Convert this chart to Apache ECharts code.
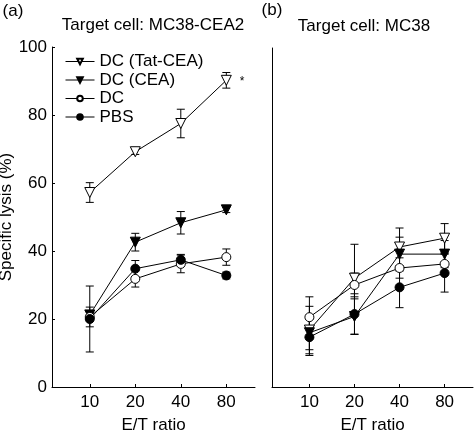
<!DOCTYPE html>
<html>
<head>
<meta charset="utf-8">
<script src="https://cdn.jsdelivr.net/npm/echarts@6/dist/echarts.min.js"></script>
<style>
html,body{margin:0;padding:0;background:#fff;}
#chart{width:475px;height:434px;}
</style>
</head>
<body>
<div id="chart"></div>
<script>
// ---- data ----
var ratioLabels = ['10', '20', '40', '80'];
var seriesNames = ['DC (Tat-CEA)', 'DC (CEA)', 'DC', 'PBS'];

// Panel (a): target MC38-CEA2
var tatCEA_a = [57.2, 69.2, 77.5, 90.2];
var tatCEA_a_err = [2.9, 0.8, 4.2, 2.3];
var cea_a = [21.2, 42.6, 48.3, 52.1];
var cea_a_err = [1.2, 2.6, 3.3, 0.8];
var dc_a = [20.6, 31.8, 36.2, 38.2];
var dc_a_err = [2.9, 2.4, 2.6, 2.4];
var pbs_a = [20.0, 34.8, 37.4, 32.8];
var pbs_a_err = [9.7, 2.4, 1.6, 1.0];

// Panel (b): target MC38
var tatCEA_b = [16.8, 32.1, 41.3, 43.9];
var tatCEA_b_err = [7.0, 10.0, 5.6, 4.3];
var cea_b = [16.0, 20.8, 39.2, 39.2];
var cea_b_err = [5.0, 5.2, 5.0, 4.0];
var dc_b = [20.6, 30.1, 35.1, 36.3];
var dc_b_err = [6.0, 3.5, 3.0, 3.0];
var pbs_b = [14.7, 21.5, 29.4, 33.6];
var pbs_b_err = [5.4, 6.0, 6.0, 5.6];

var yTicks = [0, 20, 40, 60, 80, 100];

// ---- build ----
var FONT = '"Liberation Sans", Arial, Helvetica, sans-serif';
var FS = 17;
var styles = [
  {symbol: 'triangle', rotate: 180, fill: '#fff', size: 10},
  {symbol: 'triangle', rotate: 180, fill: '#000', size: 10},
  {symbol: 'circle', rotate: 0, fill: '#fff', size: 9},
  {symbol: 'circle', rotate: 0, fill: '#000', size: 9}
];

function pts(vals) { return vals.map(function (v, i) { return [i + 1, v]; }); }
function errPts(vals, errs) { return vals.map(function (v, i) { return [i + 1, v, errs[i]]; }); }

function errRender(params, api) {
  var x = api.value(0), y = api.value(1), e = api.value(2);
  var top = api.coord([x, y + e]);
  var bot = api.coord([x, y - e]);
  var hw = 4;
  var st = {stroke: '#000', lineWidth: 1};
  return {
    type: 'group',
    children: [
      {type: 'line', shape: {x1: top[0], y1: top[1], x2: bot[0], y2: bot[1]}, style: st},
      {type: 'line', shape: {x1: top[0] - hw, y1: top[1], x2: top[0] + hw, y2: top[1]}, style: st},
      {type: 'line', shape: {x1: bot[0] - hw, y1: bot[1], x2: bot[0] + hw, y2: bot[1]}, style: st}
    ]
  };
}

var panelA = [tatCEA_a, cea_a, dc_a, pbs_a];
var panelAErr = [tatCEA_a_err, cea_a_err, dc_a_err, pbs_a_err];
var panelB = [tatCEA_b, cea_b, dc_b, pbs_b];
var panelBErr = [tatCEA_b_err, cea_b_err, dc_b_err, pbs_b_err];

var series = [];
[[panelA, panelAErr, 0], [panelB, panelBErr, 1]].forEach(function (p) {
  p[0].forEach(function (vals, k) {
    series.push({
      type: 'custom', name: 'err' + p[2] + k, xAxisIndex: p[2], yAxisIndex: p[2],
      renderItem: errRender, data: errPts(vals, p[1][k]), z: 1, silent: true
    });
  });
});
[[panelA, 0], [panelB, 1]].forEach(function (p) {
  p[0].forEach(function (vals, k) {
    var s = styles[k];
    series.push({
      type: 'line', name: seriesNames[k], xAxisIndex: p[1], yAxisIndex: p[1],
      data: pts(vals), symbol: s.symbol, symbolRotate: s.rotate, symbolSize: s.size,
      showAllSymbol: true,
      lineStyle: {color: '#000', width: 1},
      itemStyle: {color: s.fill, borderColor: '#000', borderWidth: 1},
      z: 3, animation: false
    });
  });
});

function xAxis(gi) {
  return {
    type: 'value', gridIndex: gi, min: 0.17, max: 4.63,
    name: 'E/T ratio', nameLocation: 'middle', nameGap: 30,
    nameTextStyle: {fontSize: FS, color: '#000', fontFamily: FONT},
    axisLine: {show: true, lineStyle: {color: '#000', width: 1}},
    axisTick: {show: true, inside: true, length: 3, customValues: [1, 2, 3, 4], lineStyle: {color: '#000'}},
    axisLabel: {
      customValues: [1, 2, 3, 4], margin: 7, fontSize: FS, color: '#000', fontFamily: FONT,
      formatter: function (v) { return ratioLabels[Math.round(v) - 1]; }
    },
    splitLine: {show: false}
  };
}

var option = {
  animation: false,
  backgroundColor: '#fff',
  grid: [
    {left: 52, right: 220, top: 47, bottom: 47, outerBoundsMode: 'none', containLabel: false},
    {left: 272, right: 2, top: 48, bottom: 47, outerBoundsMode: 'none', containLabel: false}
  ],
  xAxis: [xAxis(0), xAxis(1)],
  yAxis: [
    {
      type: 'value', gridIndex: 0, min: 0, max: 100, interval: 20,
      name: 'Specific lysis (%)', nameLocation: 'middle', nameGap: 30, nameRotate: 90,
      nameTextStyle: {fontSize: FS, color: '#000', fontFamily: FONT},
      axisLine: {show: true, lineStyle: {color: '#000', width: 1}},
      axisTick: {show: true, inside: true, length: 3, lineStyle: {color: '#000'}},
      axisLabel: {margin: 5, fontSize: FS, color: '#000', fontFamily: FONT,
        formatter: function (v) { return yTicks.indexOf(v) >= 0 ? String(v) : ''; }},
      splitLine: {show: false}
    },
    {
      type: 'value', gridIndex: 1, min: 0, max: 100, interval: 20,
      axisLine: {show: true, lineStyle: {color: '#000', width: 1}},
      axisTick: {show: false}, axisLabel: {show: false}, splitLine: {show: false}
    }
  ],
  legend: {
    data: seriesNames, orient: 'vertical', left: 60, top: 48,
    itemWidth: 29, itemHeight: 7, itemGap: 1.5,
    lineStyle: {width: 1},
    textStyle: {fontSize: FS, color: '#000', fontFamily: FONT},
    selectedMode: false
  },
  graphic: [
    {type: 'text', x: 13, y: 11, style: {text: '(a)', font: FS + 'px ' + FONT, fill: '#000', textAlign: 'center', textVerticalAlign: 'middle'}},
    {type: 'text', x: 272, y: 10, style: {text: '(b)', font: FS + 'px ' + FONT, fill: '#000', textAlign: 'center', textVerticalAlign: 'middle'}},
    {type: 'text', x: 153, y: 25, style: {text: 'Target cell: MC38-CEA2', font: FS + 'px ' + FONT, fill: '#000', textAlign: 'center', textVerticalAlign: 'middle'}},
    {type: 'text', x: 364, y: 26, style: {text: 'Target cell: MC38', font: FS + 'px ' + FONT, fill: '#000', textAlign: 'center', textVerticalAlign: 'middle'}},
    {type: 'text', x: 242, y: 82, style: {text: '*', font: '12px ' + FONT, fill: '#000', textAlign: 'center', textVerticalAlign: 'middle'}}
  ],
  series: series
};

var chart = echarts.init(document.getElementById('chart'), null, {renderer: 'canvas'});
chart.setOption(option);
</script>
</body>
</html>
